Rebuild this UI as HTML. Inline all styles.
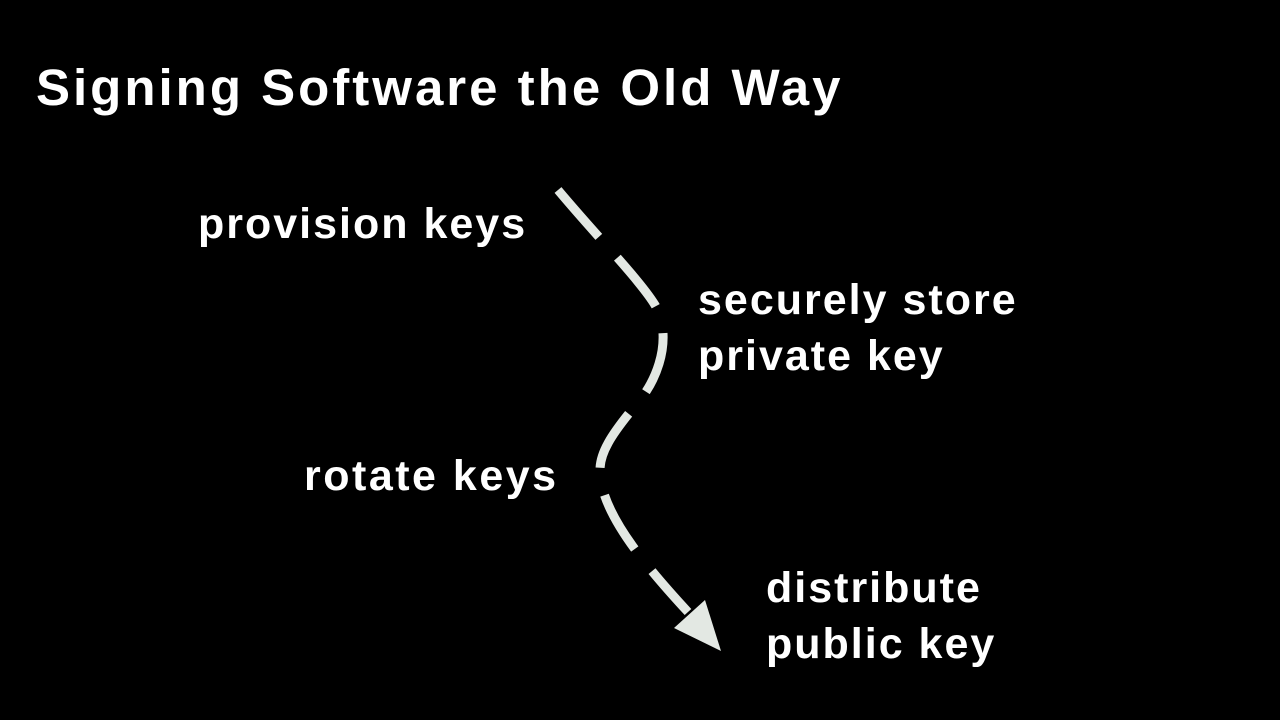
<!DOCTYPE html>
<html><head><meta charset="utf-8"><style>
html,body{margin:0;padding:0;background:#000;}
body{width:1280px;height:720px;position:relative;overflow:hidden;font-family:"Liberation Sans",sans-serif;color:#fff;}
.t{position:absolute;white-space:nowrap;font-weight:bold;letter-spacing:2px;}
</style></head><body>
<div class="t" style="left:36px;top:58px;font-size:51px;line-height:60px;letter-spacing:3px;">Signing Software the Old Way</div>
<div class="t" style="left:198px;top:198px;font-size:43px;line-height:52px;">provision keys</div>
<div class="t" style="left:698px;top:272px;font-size:43px;line-height:56px;">securely store<br>private key</div>
<div class="t" style="left:304px;top:450px;font-size:43px;line-height:52px;letter-spacing:2.5px;">rotate keys</div>
<div class="t" style="left:766px;top:560px;font-size:43px;line-height:56px;">distribute<br>public key</div>
<svg width="1280" height="720" style="position:absolute;left:0;top:0">
<path d="M558,190 C600,240 640,280 655,305 C672,335 660,375 640,400 C615,430 600,450 600,470 C600,510 640,560 688,612" fill="none" stroke="#e3e8e3" stroke-width="9" stroke-dasharray="62,28"/>
<polygon points="721,651 674,628 705,600" fill="#e3e8e3"/>
</svg>
</body></html>
